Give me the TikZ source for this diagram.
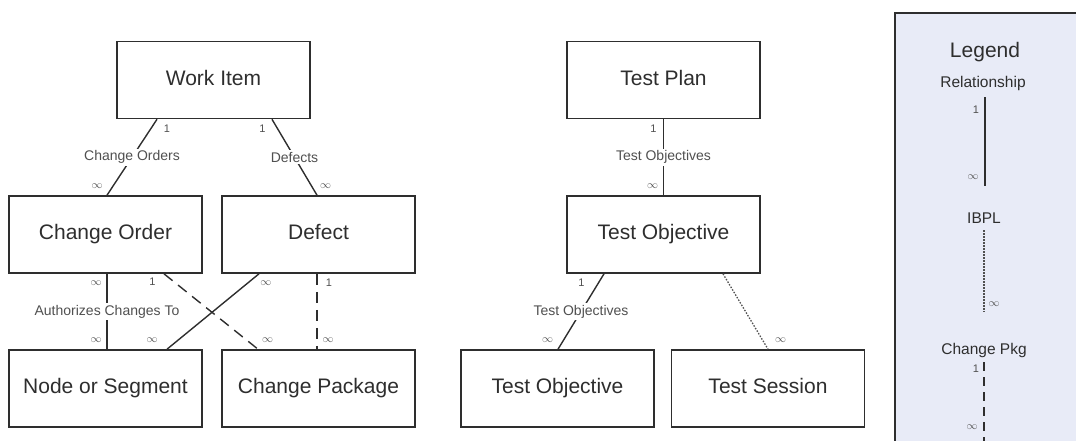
\documentclass[tikz,border=0pt]{standalone}
\usepackage{fontspec}
\setmainfont{Liberation Sans}
\usetikzlibrary{positioning}
\definecolor{inkgray}{HTML}{2E2E2E}
\definecolor{lblgray}{HTML}{505050}
\definecolor{legendfill}{HTML}{E8EBF7}

\tikzset{
  entity/.style={draw=inkgray, line width=1.6pt, fill=white, minimum width=193pt,
    minimum height=77pt, inner sep=0pt, text=inkgray, text height=15pt, text depth=4.5pt,
    font=\fontsize{21}{25}\selectfont},
  rel/.style={inkgray, line width=1.4pt},
  ibpl/.style={lblgray, line width=1.3pt, dash pattern=on 1.5pt off 1.5pt},
  chpkg/.style={inkgray, line width=1.4pt, dash pattern=on 11pt off 7pt},
  lbl/.style={fill=white, inner sep=2pt, text=lblgray, font=\fontsize{14}{16}\selectfont},
  num/.style={inner sep=0pt, text=lblgray, font=\fontsize{11}{13}\selectfont},
  inf/.style={inner sep=0pt, text=lblgray, font=\fontsize{11}{13}\selectfont},
  legtext/.style={text=inkgray, inner sep=0pt, font=\fontsize{15.5}{18}\selectfont}
}

\begin{document}
\begin{tikzpicture}[x=1pt, y=-1pt]
\useasboundingbox (0,0) rectangle (1076,440);

% work item tree
\node[entity] (workitem) at (213.5,80) {Work Item};
\node[entity] (changeorder) at (105.5,234.5) {Change Order};
\node[entity] (defect) at (318.5,234.5) {Defect};
\node[entity] (nodeseg) at (105.5,388.5) {Node or Segment};
\node[entity] (changepkg) at (318.5,388.5) {Change Package};

\draw[rel] ([xshift=-56.5pt]workitem.south) -- ([xshift=1.5pt]changeorder.north)
  node[lbl, midway] {Change Orders}
  node[num, pos=0.12, xshift=16pt] {1}
  node[inf, pos=0.88, xshift=-16pt] {$\infty$};
\draw[rel] ([xshift=58.5pt]workitem.south) -- ([xshift=-1.5pt]defect.north)
  node[lbl, midway] {Defects}
  node[num, pos=0.12, xshift=-15pt] {1}
  node[inf, pos=0.88, xshift=14pt] {$\infty$};
\draw[rel] ([xshift=1.5pt]changeorder.south) -- ([xshift=1.5pt]nodeseg.north)
  node[lbl, midway] {Authorizes Changes To}
  node[inf, pos=0.12, xshift=-11pt] {$\infty$}
  node[inf, pos=0.88, xshift=-11pt] {$\infty$};
\draw[chpkg] ([xshift=58.5pt]changeorder.south) -- ([xshift=-60.5pt]changepkg.north)
  node[num, pos=0.1, xshift=-21pt] {1}
  node[inf, pos=0.88, xshift=21pt] {$\infty$};
\draw[rel] ([xshift=-59.5pt]defect.south) -- ([xshift=61.5pt]nodeseg.north)
  node[inf, pos=0.12, xshift=18pt] {$\infty$}
  node[inf, pos=0.88, xshift=-26pt] {$\infty$};
\draw[chpkg] ([xshift=-1.5pt]defect.south) -- ([xshift=-1.5pt]changepkg.north)
  node[num, pos=0.12, xshift=12pt] {1}
  node[inf, pos=0.88, xshift=11pt] {$\infty$};

% test plan tree
\node[entity] (testplan) at (663.5,80) {Test Plan};
\node[entity] (testobj) at (663.5,234.5) {Test Objective};
\node[entity] (subobj) at (557.5,388.5) {Test Objective};
\node[entity] (testsess) at (768,388.5) {Test Session};

\draw[rel] (testplan) -- (testobj)
  node[lbl, midway] {Test Objectives}
  node[num, pos=0.12, xshift=-10pt] {1}
  node[inf, pos=0.88, xshift=-11pt] {$\infty$};
\draw[rel] ([xshift=-59.5pt]testobj.south) -- ([xshift=0.5pt]subobj.north)
  node[lbl, midway] {Test Objectives}
  node[num, pos=0.12, xshift=-17pt] {1}
  node[inf, pos=0.88, xshift=-16pt] {$\infty$};
\draw[ibpl] ([xshift=59.5pt]testobj.south) -- (testsess.north)
  node[inf, pos=0.88, xshift=18pt] {$\infty$};

% legend
\begin{scope}
  \clip (0,0) rectangle (1076,440);
  \draw[inkgray, line width=1.6pt, fill=legendfill] (895,13) rectangle (1090,460);
\end{scope}
\node[legtext, font=\fontsize{21}{25}\selectfont] (legtitle) at (985,52) {Legend};
\node[legtext] (legrel) at (983,83) {Relationship};
\coordinate (relA) at (985,97);
\coordinate (relB) at (985,186);
\draw[rel, line width=1.8pt] (relA) -- (relB)
  node[num, pos=0.14, xshift=-9pt] {1}
  node[inf, pos=0.9, xshift=-12pt] {$\infty$};
\node[legtext] (legibpl) at (984,218) {IBPL};
\coordinate (ibplA) at (984,230);
\coordinate (ibplB) at (984,312);
\draw[ibpl] (ibplA) -- (ibplB)
  node[inf, pos=0.9, xshift=10pt] {$\infty$};
\node[legtext] (legpkg) at (984,350) {Change Pkg};
\coordinate (pkgA) at (984,362);
\coordinate (pkgB) at (984,446);
\draw[chpkg, dash pattern=on 9pt off 6pt] (pkgA) -- (pkgB)
  node[num, pos=0.08, xshift=-8pt] {1}
  node[inf, pos=0.78, xshift=-12pt] {$\infty$};
\end{tikzpicture}
\end{document}
